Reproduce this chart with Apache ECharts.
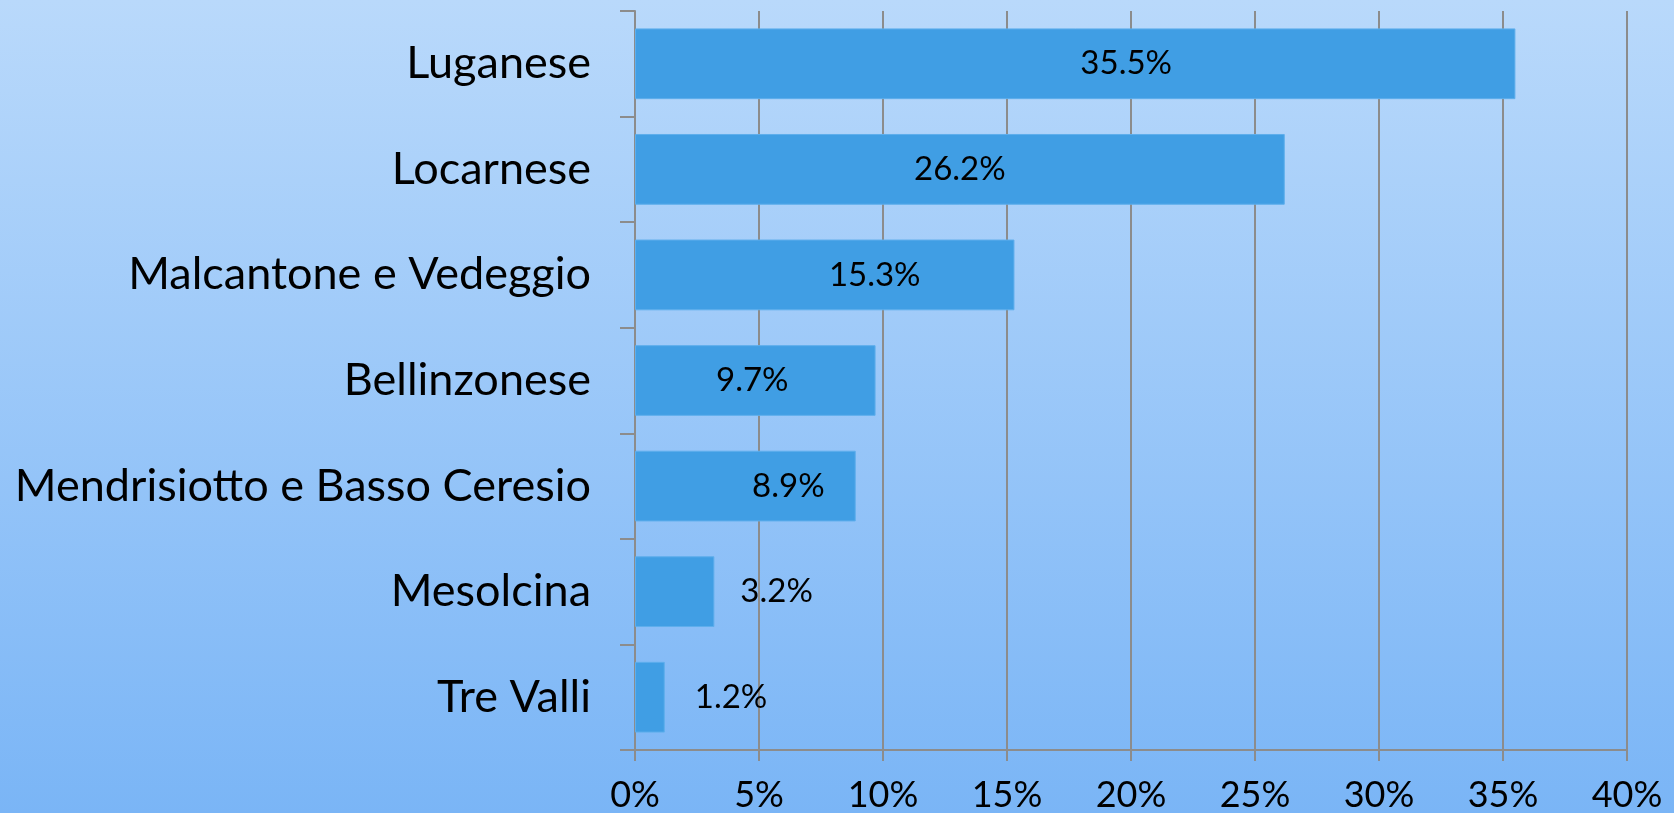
<!DOCTYPE html>
<html>
<head>
<meta charset="utf-8">
<script src="https://cdn.jsdelivr.net/npm/echarts@6/dist/echarts.min.js"></script>
<style>
  html, body { margin: 0; padding: 0; }
  #chart { width: 1674px; height: 813px; }
</style>
</head>
<body>
<div id="chart"></div>
<script>
const regions = ['Luganese', 'Locarnese', 'Malcantone e Vedeggio', 'Bellinzonese', 'Mendrisiotto e Basso Ceresio', 'Mesolcina', 'Tre Valli'];
const shares = [35.5, 26.2, 15.3, 9.7, 8.9, 3.2, 1.2];
const xTicks = [0, 5, 10, 15, 20, 25, 30, 35, 40];

// labels were nudged by hand in the original, keep that look
const labelShift = [51, 0, 50, -3, 43, 0, 0];

const chart = echarts.init(document.getElementById('chart'));
const gray = '#8c8c8c';
const font = 'Lato, "Open Sans", sans-serif';

chart.setOption({
  backgroundColor: new echarts.graphic.LinearGradient(0, 0, 0, 1, [
    { offset: 0, color: '#b9d9fb' },
    { offset: 1, color: '#7ab5f6' },
  ]),
  grid: { left: 635, right: 47, top: 11, bottom: 62 },
  xAxis: {
    type: 'value',
    min: xTicks[0],
    max: xTicks[xTicks.length - 1],
    interval: 5,
    axisLine: { show: true, lineStyle: { color: gray, width: 2 } },
    axisTick: { show: true, length: 11, lineStyle: { color: gray, width: 2 } },
    splitLine: { show: true, lineStyle: { color: gray, width: 2 } },
    axisLabel: { color: '#000', fontFamily: font, fontSize: 36, margin: 27, formatter: '{value}%' },
  },
  yAxis: {
    type: 'category',
    data: regions,
    inverse: true,
    axisLine: { show: true, lineStyle: { color: gray, width: 2 } },
    axisTick: { show: true, length: 15, lineStyle: { color: gray, width: 2 } },
    axisLabel: { color: '#000', fontFamily: font, fontSize: 45, margin: 44 },
  },
  series: [{
    type: 'bar',
    barCategoryGap: '33%',
    data: shares.map((v, i) => ({
      value: v,
      label: v < 5
        ? { position: 'right', distance: i === 5 ? 26 : 30 }
        : { position: 'inside', offset: [labelShift[i], 0] },
    })),
    itemStyle: { color: '#409ee4', borderColor: '#5eaeec', borderWidth: 1 },
    label: {
      show: true,
      color: '#000',
      fontFamily: font,
      fontSize: 33,
      formatter: p => p.value.toFixed(1) + '%',
    },
    silent: true,
    animation: false,
  }],
});
</script>
</body>
</html>
